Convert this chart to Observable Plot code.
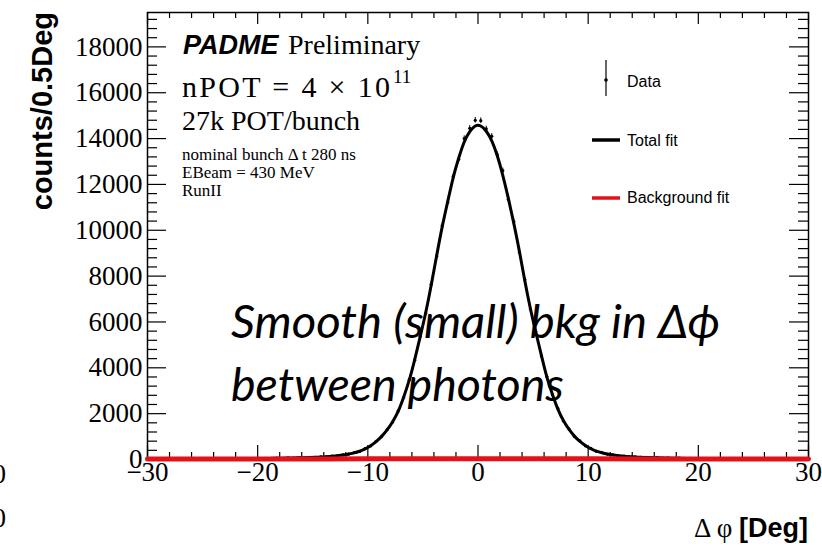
<!DOCTYPE html>
<html><head><meta charset="utf-8">
<script src="https://cdn.jsdelivr.net/npm/d3@7"></script>
<script src="https://cdn.jsdelivr.net/npm/@observablehq/plot@0.6"></script>
<style>
html,body{margin:0;padding:0;background:#fff;}
#chart{width:822px;height:546px;overflow:hidden;position:relative;}
</style></head><body><div id="chart"></div>
<script>
// Histogram binning: counts / 0.5 Deg from -30 to 30
const binStart = -30, binWidth = 0.5;
// Data counts, bins -29.75 ... -0.25
const dataLeft = [18,24,19,25,21,27,23,29,24,30, 26,33,28,35,30,37,33,40,35,42,
  40,49,46,57,55,67,64,79,76,93, 92,118,120,152,158,205,232,301,349,472,
  588,795,995,1305,1632,2120,2700,3470,4330,5380, 6380,7640,8870,10200,11220,12350,13100,14000,14450,14800];
// Data counts, bins 0.25 ... 29.75
const dataRight = [14780,14420,14100,13300,12600,11350,10380,9050,7850,6560, 5580,4520,3620,2830,2230,1680,1340,1000,810,595,
  485,352,305,228,204,158,147,116,113,90, 91,76,78,64,66,55,56,46,48,40,
  41,36,38,33,36,31,34,29,31,26, 29,24,28,23,26,21,24,19,23,18];
// Total fit, bins -29.75 ... -0.25
const fitLeft = [20,21,21,22,23,24,25,26,26,27, 28,29,31,32,33,34,35,36,38,39,
  42,45,49,53,58,63,68,74,80,87, 96,110,125,143,165,195,240,290,360,460,
  600,780,1010,1290,1650,2100,2720,3450,4350,5350, 6400,7600,8900,10150,11250,12300,13150,13850,14300,14550];
// Total fit, bins 0.25 ... 29.75
const fitRight = [14550,14320,13900,13250,12400,11400,10300,9100,7800,6600, 5550,4550,3600,2850,2200,1700,1320,1020,790,610,
  470,365,295,240,195,165,140,122,108,95, 87,80,74,68,63,58,53,49,45,42,
  39,38,36,35,34,33,32,31,29,28, 27,26,26,25,24,23,22,21,21,20];
// Background fit
const bkgX = [-30,-20,-10,0,10,20,30];
const bkgY = [18,24,28,30,28,24,18];
// Axes
const xMajorTicks = [-30,-20,-10,0,10,20,30];
const xMinorTicks = [-28,-26,-24,-22,-18,-16,-14,-12,-8,-6,-4,-2,2,4,6,8,12,14,16,18,22,24,26,28];
const yMajorTicks = [0,2000,4000,6000,8000,10000,12000,14000,16000,18000];
const yMinorStep = 400;
const yMax = 19500;

const W = 822, H = 546, ML = 147, MR = 14, MT = 12, MB = 87;
const IW = W - ML - MR, IH = H - MT - MB;

const dataRows = dataLeft.concat(dataRight).map((c, i) => ({x: binStart + (i + 0.5) * binWidth, y: c}));
const fitRows = fitLeft.concat(fitRight).map((c, i) => ({x: binStart + (i + 0.5) * binWidth, y: c}));
const bkgRows = bkgX.map((x, i) => ({x, y: bkgY[i]}));
const yMinorTicks = d3.range(yMinorStep, yMax, yMinorStep).filter(v => v % 2000 !== 0);
const fmt = d => String(d).replace("-", "\u2212");
const serif = "Liberation Serif, Times New Roman, serif";
const sans = "Liberation Sans, Arial, Helvetica, sans-serif";

const plot = Plot.plot({
  width: W, height: H,
  marginLeft: ML, marginRight: MR, marginTop: MT, marginBottom: MB,
  x: {domain: [-30, 30], axis: null},
  y: {domain: [0, yMax], axis: null},
  style: {background: "white", overflow: "visible"},
  marks: [
    Plot.ruleX(dataRows, {x: "x", y1: d => d.y - Math.sqrt(d.y), y2: d => d.y + Math.sqrt(d.y), stroke: "black", strokeWidth: 1}),
    Plot.dot(dataRows, {x: "x", y: "y", r: 1.6, fill: "black", stroke: "none"}),
    Plot.line(fitRows, {x: "x", y: "y", stroke: "black", strokeWidth: 3, curve: "natural"}),
    // ticks inside frame
    Plot.tickX(xMajorTicks, {x: d => d, insetTop: IH - 14, stroke: "black", strokeWidth: 1.2}),
    Plot.tickX(xMinorTicks, {x: d => d, insetTop: IH - 7, stroke: "black", strokeWidth: 1.2}),
    Plot.tickX(xMajorTicks, {x: d => d, insetBottom: IH - 12, stroke: "black", strokeWidth: 1.2}),
    Plot.tickX(xMinorTicks, {x: d => d, insetBottom: IH - 6, stroke: "black", strokeWidth: 1.2}),
    Plot.tickY(yMajorTicks, {y: d => d, insetRight: IW - 19, stroke: "black", strokeWidth: 1.2}),
    Plot.tickY(yMinorTicks, {y: d => d, insetRight: IW - 10, stroke: "black", strokeWidth: 1.2}),
    Plot.tickY(yMajorTicks, {y: d => d, insetLeft: IW - 19, stroke: "black", strokeWidth: 1.2}),
    Plot.tickY(yMinorTicks, {y: d => d, insetLeft: IW - 10, stroke: "black", strokeWidth: 1.2}),
    Plot.frame({stroke: "black", strokeWidth: 1.5}),
    Plot.line(bkgRows, {x: "x", y: "y", stroke: "#e3121a", strokeWidth: 5, curve: "natural"}),
    Plot.text(xMajorTicks, {x: d => d, frameAnchor: "bottom", dy: 21, text: fmt, fontSize: 27, fontFamily: serif, fill: "black"}),
    Plot.text(yMajorTicks, {y: d => d, frameAnchor: "left", dx: -5, textAnchor: "end", text: fmt, fontSize: 27, fontFamily: serif, fill: "black"})
  ]
});
document.getElementById("chart").appendChild(plot);

const svg = d3.select(plot);
const g = svg.append("g").attr("fill", "black").attr("text-anchor", "start");
function txt(x, y, s, opts = {}) {
  const t = g.append("text").attr("x", x).attr("y", y).text(s)
    .attr("font-family", opts.family || serif).attr("font-size", opts.size || 27)
    .attr("text-anchor", opts.anchor || "start");
  if (opts.weight) t.attr("font-weight", opts.weight);
  if (opts.style) t.attr("font-style", opts.style);
  if (opts.len) t.attr("textLength", opts.len).attr("lengthAdjust", opts.adjust || "spacing");
  if (opts.fill) t.attr("fill", opts.fill);
  return t;
}
// Y title
g.append("text").attr("transform", "translate(52,12) rotate(-90)").attr("text-anchor", "end")
  .attr("font-family", sans).attr("font-weight", "bold").attr("font-size", 29).text("counts/0.5Deg");
// X title
const xt = g.append("text").attr("x", 808).attr("y", 537).attr("text-anchor", "end");
xt.append("tspan").attr("font-family", serif).attr("font-size", 27).text("\u0394 \u03c6 ");
xt.append("tspan").attr("font-family", sans).attr("font-weight", "bold").attr("font-size", 27).text("[Deg]");
// Labels
txt(183, 54, "PADME", {family: sans, weight: "bold", style: "italic", size: 27});
txt(288, 54, "Preliminary", {size: 28});
txt(182, 97, "nPOT = 4 \u00d7 10", {size: 30, len: 208});
txt(393, 83, "11", {size: 19});
txt(182, 130, "27k POT/bunch", {size: 28});
txt(182, 160, "nominal bunch \u0394 t 280 ns", {size: 17});
txt(182, 178, "EBeam = 430 MeV", {size: 17});
txt(182, 196, "RunII", {size: 17});
// Legend
g.append("line").attr("x1", 606).attr("x2", 606).attr("y1", 60).attr("y2", 96).attr("stroke", "black").attr("stroke-width", 1.2);
g.append("circle").attr("cx", 606).attr("cy", 80).attr("r", 1.8).attr("fill", "black");
txt(627, 87, "Data", {family: sans, size: 16});
g.append("line").attr("x1", 592).attr("x2", 620).attr("y1", 140).attr("y2", 140).attr("stroke", "black").attr("stroke-width", 3.5);
txt(627, 146, "Total fit", {family: sans, size: 16});
g.append("line").attr("x1", 592).attr("x2", 620).attr("y1", 198).attr("y2", 198).attr("stroke", "#e3121a").attr("stroke-width", 3.5);
txt(627, 203, "Background fit", {family: sans, size: 16});
// Annotation overlay
txt(231, 338, "Smooth (small) bkg in \u0394\u03d5", {family: "Lato, Open Sans, sans-serif", style: "italic", size: 46, len: 489, adjust: "spacingAndGlyphs"});
txt(231, 401, "between photons", {family: "Lato, Open Sans, sans-serif", style: "italic", size: 46, len: 333, adjust: "spacingAndGlyphs"});
// stray clipped digits at left edge
txt(6, 483, "0", {anchor: "end", size: 27});
txt(6, 527, "0", {anchor: "end", size: 27});
</script></body></html>
